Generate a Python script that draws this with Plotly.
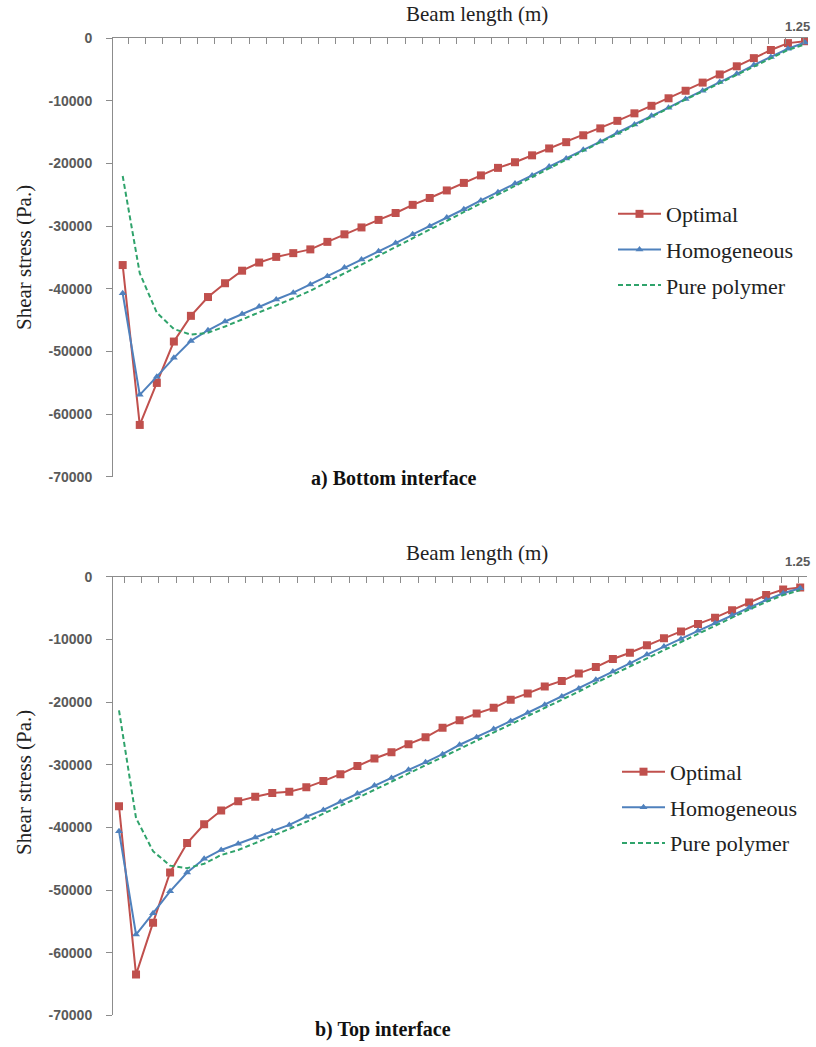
import plotly.graph_objects as go

# ---------------- data ----------------
beam_x = [0.018, 0.0488, 0.0796, 0.1104, 0.1412, 0.172, 0.2028, 0.2336, 0.2644, 0.2952,
          0.326, 0.3568, 0.3876, 0.4184, 0.4492, 0.48, 0.5108, 0.5416, 0.5724, 0.6032,
          0.634, 0.6648, 0.6956, 0.7264, 0.7572, 0.788, 0.8188, 0.8496, 0.8804, 0.9112,
          0.942, 0.9728, 1.0036, 1.0344, 1.0652, 1.096, 1.1268, 1.1576, 1.1884, 1.2192, 1.25]

bottom_optimal = [-36200, -61700, -55000, -48400, -44300, -41300, -39100, -37100, -35800, -34900,
                  -34300, -33700, -32500, -31300, -30200, -29000, -27900, -26600, -25500, -24300,
                  -23100, -21900, -20700, -19800, -18700, -17600, -16600, -15500, -14400, -13200,
                  -12000, -10800, -9600, -8400, -7100, -5800, -4500, -3200, -1900, -800, -500]
bottom_homog = [-40700, -56900, -54000, -51000, -48300, -46600, -45200, -44000, -42800, -41700,
                -40600, -39300, -38000, -36600, -35300, -34000, -32700, -31300, -30000, -28600,
                -27300, -25900, -24600, -23200, -21900, -20500, -19200, -17800, -16500, -15100,
                -13800, -12400, -11100, -9700, -8400, -7000, -5700, -4300, -3000, -1700, -700]
bottom_polymer = [-22000, -37500, -43800, -46400, -47300, -47000, -46000, -44900, -43800, -42700,
                  -41500, -40300, -38900, -37500, -36100, -34700, -33300, -31900, -30500, -29100,
                  -27700, -26300, -24900, -23500, -22100, -20700, -19400, -18000, -16600, -15300,
                  -13900, -12500, -11200, -9800, -8500, -7200, -5800, -4500, -3200, -1900, -1000]

top_optimal = [-36600, -63500, -55200, -47200, -42500, -39500, -37300, -35800, -35100, -34500,
               -34300, -33600, -32600, -31500, -30200, -29000, -28000, -26700, -25600, -24100,
               -22900, -21800, -20900, -19600, -18600, -17500, -16600, -15400, -14400, -13100,
               -12100, -10900, -9800, -8700, -7500, -6500, -5300, -4100, -2900, -2000, -1700]
top_homog = [-40600, -57100, -53700, -50200, -47200, -45000, -43600, -42600, -41600, -40600,
             -39600, -38300, -37200, -35900, -34600, -33300, -32100, -30800, -29600, -28300,
             -26800, -25600, -24300, -23000, -21700, -20400, -19100, -17800, -16400, -15100,
             -13800, -12400, -11100, -9900, -8600, -7400, -6100, -4900, -3700, -2600, -1800]
top_polymer = [-21300, -38500, -43800, -46100, -46500, -45800, -44400, -43600, -42500, -41400,
               -40300, -39100, -37800, -36600, -35300, -34000, -32700, -31400, -30100, -28800,
               -27400, -26100, -24800, -23500, -22200, -20900, -19600, -18300, -16900, -15600,
               -14300, -12900, -11600, -10300, -9000, -7800, -6500, -5200, -4000, -2900, -2100]

y_tickvals = [0, -10000, -20000, -30000, -40000, -50000, -60000, -70000]
y_ticktext = ["0", "-10000", "-20000", "-30000", "-40000", "-50000", "-60000", "-70000"]
series_names = ["Optimal", "Homogeneous", "Pure polymer"]
panel_titles = ["a) Bottom interface", "b) Top interface"]

# ---------------- styling ----------------
W, H = 816, 1047
# vertical placement correction measured on the rendered page
VS, VO = 0.985, 7.9
RED = "#C0504D"
BLUE = "#4F81BD"
GREEN = "#2FA36B"
AXIS = "#8C8C8C"
SERIF = "Liberation Serif"
SANS = "Liberation Sans"

def px_x(p):
    return p / W

def px_y(p):
    return 1 - ((p - VO) / VS) / H

fig = go.Figure()

panels = [
    dict(opt=bottom_optimal, hom=bottom_homog, pol=bottom_polymer, xa="x", ya="y", legend="legend"),
    dict(opt=top_optimal, hom=top_homog, pol=top_polymer, xa="x2", ya="y2", legend="legend2"),
]

for i, p in enumerate(panels):
    fig.add_trace(go.Scatter(x=beam_x, y=p["opt"], name=series_names[0], mode="lines+markers",
                             line=dict(color=RED, width=2),
                             marker=dict(symbol="square", size=8, color=RED),
                             xaxis=p["xa"], yaxis=p["ya"], legend=p["legend"],
                             legendgroup=f"o{i}"))
    fig.add_trace(go.Scatter(x=beam_x, y=p["hom"], name=series_names[1], mode="lines+markers",
                             line=dict(color=BLUE, width=2),
                             marker=dict(symbol="triangle-up", size=7, color=BLUE),
                             xaxis=p["xa"], yaxis=p["ya"], legend=p["legend"],
                             legendgroup=f"h{i}"))
    fig.add_trace(go.Scatter(x=beam_x, y=p["pol"], name=series_names[2], mode="lines",
                             line=dict(color=GREEN, width=2, dash="5px,3px"),
                             xaxis=p["xa"], yaxis=p["ya"], legend=p["legend"],
                             legendgroup=f"p{i}"))

def yaxis_cfg(dom):
    return dict(domain=dom, range=[-70000, 0], tickvals=y_tickvals, ticktext=y_ticktext,
                ticks="outside", ticklen=6, tickcolor=AXIS, showline=True, linecolor=AXIS,
                linewidth=1, showgrid=False, zeroline=False, ticklabelstandoff=11,
                tickfont=dict(family=SANS, size=14, color="#5a5a5a", weight="bold"))

def xaxis_cfg(dom, rng, anchor):
    return dict(domain=dom, range=rng, side="top", anchor=anchor,
                ticks="inside", ticklen=6, tickcolor=AXIS, tick0=0.0278, dtick=0.03125,
                showticklabels=False, showline=True, linecolor=AXIS, linewidth=1,
                showgrid=False, zeroline=False)

legend_common = dict(xanchor="left", yanchor="top", itemwidth=43, tracegroupgap=4,
                     font=dict(family=SERIF, size=22, color="#222"), bgcolor="rgba(0,0,0,0)")

fig.update_layout(
    width=W, height=H,
    margin=dict(l=0, r=0, t=0, b=0),
    paper_bgcolor="white", plot_bgcolor="white",
    xaxis=xaxis_cfg([px_x(113), px_x(808)], [0.0005, 1.2554], "y"),
    yaxis=yaxis_cfg([px_y(477), px_y(38)]),
    xaxis2=xaxis_cfg([px_x(108), px_x(807)], [-0.0019, 1.2623], "y2"),
    yaxis2=yaxis_cfg([px_y(1015.5), px_y(577)]),
    legend=dict(x=px_x(613), y=px_y(193), **legend_common),
    legend2=dict(x=px_x(617), y=px_y(751), **legend_common),
    showlegend=True,
)

ann = []
for yc_title, yc_axis, yc_label, xc_panel, yc_panel, title in [
        (14, 258, 26, 394, 479, panel_titles[0]),
        (553, 783, 562, 383, 1030, panel_titles[1])]:
    ann.append(dict(text="Beam length (m)", x=px_x(477), y=px_y(yc_title), xref="paper", yref="paper",
                    showarrow=False, xanchor="center", yanchor="middle",
                    font=dict(family=SERIF, size=21, color="#222")))
    ann.append(dict(text="Shear stress (Pa.)", x=px_x(24), y=px_y(yc_axis), xref="paper", yref="paper",
                    showarrow=False, textangle=-90, xanchor="center", yanchor="middle",
                    font=dict(family=SERIF, size=21, color="#222")))
    ann.append(dict(text="<b>1.25</b>", x=px_x(797), y=px_y(yc_label), xref="paper", yref="paper",
                    showarrow=False, xanchor="center", yanchor="middle",
                    font=dict(family=SANS, size=13, color="#5a5a5a")))
    ann.append(dict(text=f"<b>{title}</b>", x=px_x(xc_panel), y=px_y(yc_panel), xref="paper", yref="paper",
                    showarrow=False, xanchor="center", yanchor="middle",
                    font=dict(family=SERIF, size=20, color="#111")))
fig.update_layout(annotations=ann)

fig.write_html("out.html")
